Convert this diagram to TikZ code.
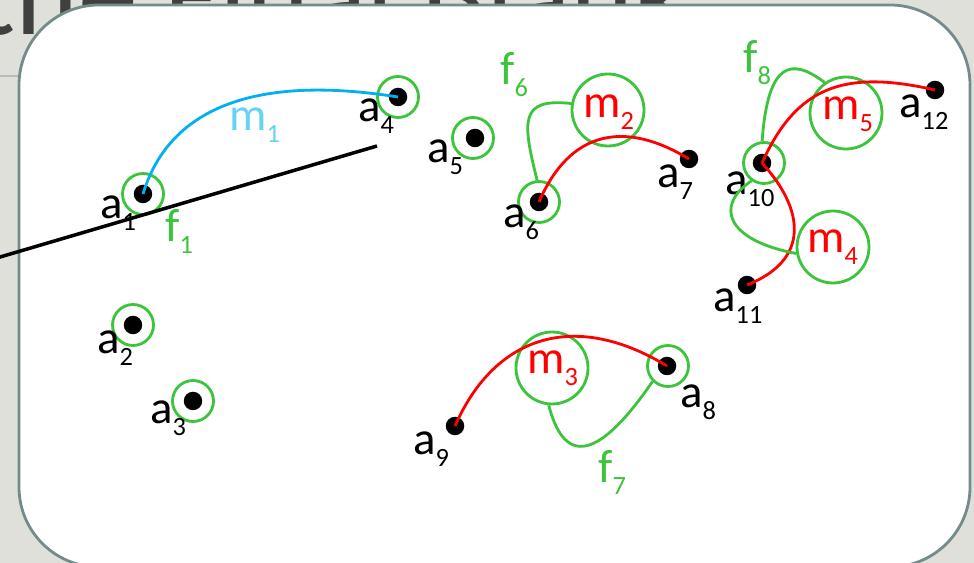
\documentclass[tikz,border=0pt]{standalone}
\usepackage{fontspec}
\setmainfont{Carlito}
\usetikzlibrary{positioning}
\definecolor{slidebg}{HTML}{E0E0DA}
\definecolor{cardline}{HTML}{748B8B}
\definecolor{titlegray}{HTML}{404040}
\definecolor{ringgreen}{HTML}{3CC43C}
\definecolor{pathred}{HTML}{FF0000}
\definecolor{pathblue}{HTML}{00B0F0}
\definecolor{lightblue}{HTML}{66D3F6}
\newcommand{\lbl}[2]{#1\raisebox{-6.8pt}{\fontsize{15}{17}\selectfont #2}}
\tikzset{
  every node/.style={inner sep=0pt},
  card/.style={draw=cardline,fill=white,line width=1.6pt,rounded corners=1.6cm},
  dot/.style={circle,fill=black,minimum size=0.37cm},
  ring/.style={circle,draw=ringgreen,line width=1.6pt,minimum size=0.82cm},
  bigring/.style={ring,minimum size=1.44cm},
  lab/.style={anchor=base west,font=\fontsize{26.6}{30}\selectfont,text=black},
  mlab/.style={lab,text=pathred},
  flab/.style={lab,text=ringgreen},
  medge/.style={draw=pathred,line width=1.6pt},
  bedge/.style={draw=pathblue,line width=1.6pt},
  fedge/.style={draw=ringgreen,line width=1.6pt},
  cutline/.style={draw=black,line width=2pt}
}

\begin{document}
\begin{tikzpicture}[x=0.02cm,y=-0.02cm]
  \useasboundingbox (0,0) rectangle (974,563);
  \clip (0,0) rectangle (974,563);
  \fill[slidebg] (0,0) rectangle (974,563);
  \node[anchor=base west,font=\fontsize{68}{72}\selectfont,text=titlegray] (title) at (-25,35) {the Final Blank};
  \draw[gray!55,line width=0.8pt] (0,76) -- (19,76);
  \draw[card] (19,5) rectangle (970,567);

  % points
  \node[dot] (a1) at (143,194) {};
  \node[dot] (a2) at (133,325) {};
  \node[dot] (a3) at (193,401) {};
  \node[dot] (a4) at (398,97) {};
  \node[dot] (a5) at (475,138) {};
  \node[dot] (a6) at (539,202) {};
  \node[dot] (a7) at (689,159) {};
  \node[dot] (a8) at (667,366) {};
  \node[dot] (a9) at (455,426) {};
  \node[dot] (a10) at (762,163) {};
  \node[dot] (a11) at (747,285) {};
  \node[dot] (a12) at (935,90) {};

  \node[ring] (r1) at (a1) {};
  \node[ring] (r2) at (a2) {};
  \node[ring] (r3) at (a3) {};
  \node[ring] (r4) at (a4) {};
  \node[ring] (r5) at (473,138) {};
  \node[ring] (r6) at (a6) {};
  \node[ring] (r8) at (668,366) {};
  \node[ring] (r10) at (764,163) {};

  \node[bigring] (mr2) at (608,110) {};
  \node[bigring] (mr3) at (552,368) {};
  \node[bigring] (mr4) at (833,247) {};
  \node[bigring] (mr5) at (846,113) {};

  % labels
  \node[lab] (la1) at (100,219) {\lbl{a}{1}};
  \node[lab] (la2) at (97,354) {\lbl{a}{2}};
  \node[lab] (la3) at (150,424) {\lbl{a}{3}};
  \node[lab] (la4) at (358,122) {\lbl{a}{4}};
  \node[lab] (la5) at (427,163) {\lbl{a}{5}};
  \node[lab] (la6) at (503,228) {\lbl{a}{6}};
  \node[lab] (la7) at (657,188) {\lbl{a}{7}};
  \node[lab] (la8) at (680,408) {\lbl{a}{8}};
  \node[lab] (la9) at (413,455) {\lbl{a}{9}};
  \node[lab] (la10) at (725,195) {\lbl{a}{10}};
  \node[lab] (la11) at (713,312) {\lbl{a}{11}};
  \node[lab] (la12) at (899,118) {\lbl{a}{12}};

  \node[lab,text=lightblue] (lm1) at (229,131) {\lbl{m}{1}};
  \node[mlab] (lm2) at (583,118) {\lbl{m}{2}};
  \node[mlab] (lm3) at (527,374) {\lbl{m}{3}};
  \node[mlab] (lm4) at (807,253) {\lbl{m}{4}};
  \node[mlab] (lm5) at (822,120) {\lbl{m}{5}};

  \node[flab] (lf1) at (165,242) {\lbl{f}{1}};
  \node[flab] (lf6) at (500,85) {\lbl{f}{6}};
  \node[flab] (lf7) at (598,483) {\lbl{f}{7}};
  \node[flab] (lf8) at (743,73) {\lbl{f}{8}};

  % paths
  \draw[bedge] (a1.center) .. controls (170,105) and (260,75) .. (a4.center);
  \draw[medge] (a6.center) .. controls (570,130) and (625,120) .. (a7.center);
  \draw[medge] (a9.center) .. controls (495,335) and (575,310) .. (a8.center);
  \draw[medge] (a10.center) .. controls (795,90) and (840,68) .. (a12.center);
  \draw[medge] (a10.center) .. controls (805,210) and (810,260) .. (a11.center);

  \draw[fedge] (r6.95) .. controls (522,120) and (520,98) .. (mr2.170);
  \draw[fedge] (mr3.265) .. controls (565,468) and (600,458) .. (r8.225);
  \draw[fedge] (r10.95) .. controls (768,60) and (792,58) .. (mr5.125);
  \draw[fedge] (r10.235) .. controls (715,205) and (725,240) .. (mr4.190);

  \coordinate (cutL) at (-5,258.5);
  \coordinate (cutR) at (377,146);
  \draw[cutline] (cutL) -- (cutR);
\end{tikzpicture}
\end{document}
